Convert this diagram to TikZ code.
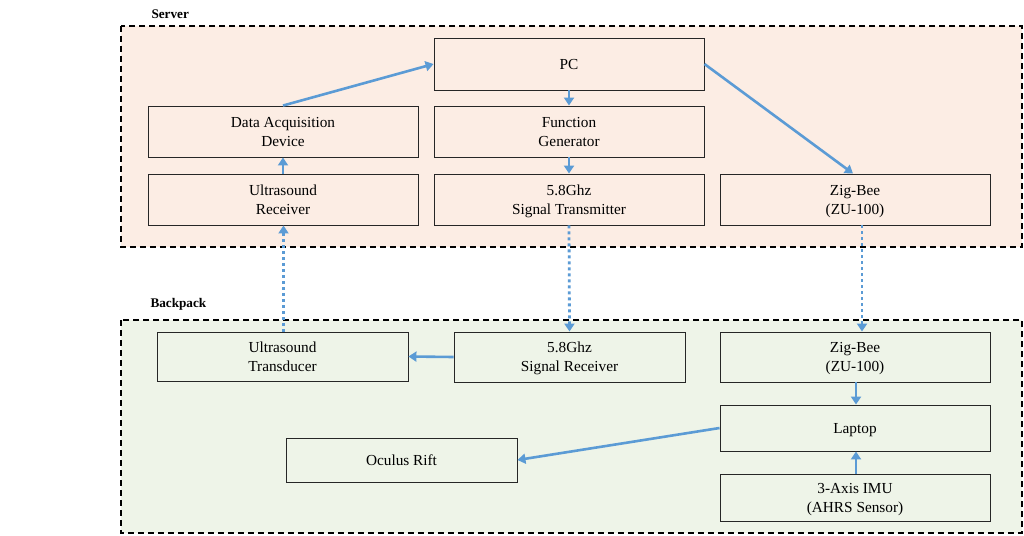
\documentclass[tikz,border=0pt]{standalone}
\usepackage{fontspec}
\setmainfont{Liberation Serif}
\usetikzlibrary{arrows.meta}
\definecolor{srvfill}{HTML}{FCEDE4}
\definecolor{bpfill}{HTML}{EEF4E8}
\definecolor{arrblue}{HTML}{5B9BD5}
\begin{document}
\begin{tikzpicture}[x=1pt,y=-1pt,
  container/.style={draw=black,line width=1.6pt,dash pattern=on 6pt off 4pt},
  box/.style={draw=black!85,line width=0.9pt,align=center,font=\fontsize{15.3}{19}\selectfont,inner sep=0pt,text depth=0pt},
  conn/.style={draw=arrblue,line width=2.6pt,-{Triangle[length=8pt,width=10pt]}},
  wless/.style={draw=arrblue,line width=2.8pt,dash pattern=on 3pt off 3pt,-{Triangle[length=8pt,width=10pt]}},
  title/.style={font=\bfseries\fontsize{13.2}{15}\selectfont,anchor=west}]
\useasboundingbox (0,0) rectangle (1024,535);
\fill[white] (0,0) rectangle (1024,535);
% containers
\path[container,fill=srvfill] (121,26) rectangle (1022,247);
\path[container,fill=bpfill] (121,320) rectangle (1022,533);
\node[title] (tsrv) at (148,14) {Server};
\node[title] (tbp) at (147,304) {Backpack};
% server nodes
\node[box,minimum width=270pt,minimum height=52pt] (pc) at (569,64) {PC};
\node[box,minimum width=270pt,minimum height=51pt] (daq) at (283,131.5) {Data Acquisition\\Device};
\node[box,minimum width=270pt,minimum height=51pt] (fg) at (569,131.5) {Function\\Generator};
\node[box,minimum width=270pt,minimum height=51pt] (urx) at (283,199.5) {Ultrasound\\Receiver};
\node[box,minimum width=270pt,minimum height=51pt] (stx) at (569,199.5) {5.8Ghz\\Signal Transmitter};
\node[box,minimum width=270pt,minimum height=51pt] (zbs) at (855,199.5) {Zig-Bee\\(ZU-100)};
% backpack nodes
\node[box,minimum width=251pt,minimum height=49pt] (utd) at (282.5,356.5) {Ultrasound\\Transducer};
\node[box,minimum width=231pt,minimum height=50pt] (srx) at (569.5,357) {5.8Ghz\\Signal Receiver};
\node[box,minimum width=270pt,minimum height=50pt] (zbb) at (855,357) {Zig-Bee\\(ZU-100)};
\node[box,minimum width=270pt,minimum height=46pt] (lap) at (855,428) {Laptop};
\node[box,minimum width=231pt,minimum height=44pt] (ocu) at (401.5,460) {Oculus Rift};
\node[box,minimum width=270pt,minimum height=47pt] (imu) at (855,497.5) {3-Axis IMU\\(AHRS Sensor)};
% connectors
\draw[conn] (daq.north) -- (pc.west);
\draw[conn] (pc.south) -- (fg.north);
\draw[conn] (fg.south) -- (stx.north);
\draw[conn] (urx.north) -- (daq.south);
\draw[conn] (pc.east) -- ([xshift=-2pt]zbs.north);
\draw[wless] (stx.south) -- (srx.north);
\draw[wless] ([xshift=7pt]zbs.south) -- ([xshift=7pt]zbb.north);
\draw[wless] ([xshift=1pt]utd.north) -- ([xshift=1pt]utd.north |- urx.south);
\draw[conn] (srx.west) -- (utd.east);
\draw[conn] ([xshift=1pt]zbb.south) -- ([xshift=1pt]lap.north);
\draw[conn] ([xshift=1pt]imu.north) -- ([xshift=1pt]lap.south);
\draw[conn] (lap.west) -- (ocu.east);
\end{tikzpicture}
\end{document}
